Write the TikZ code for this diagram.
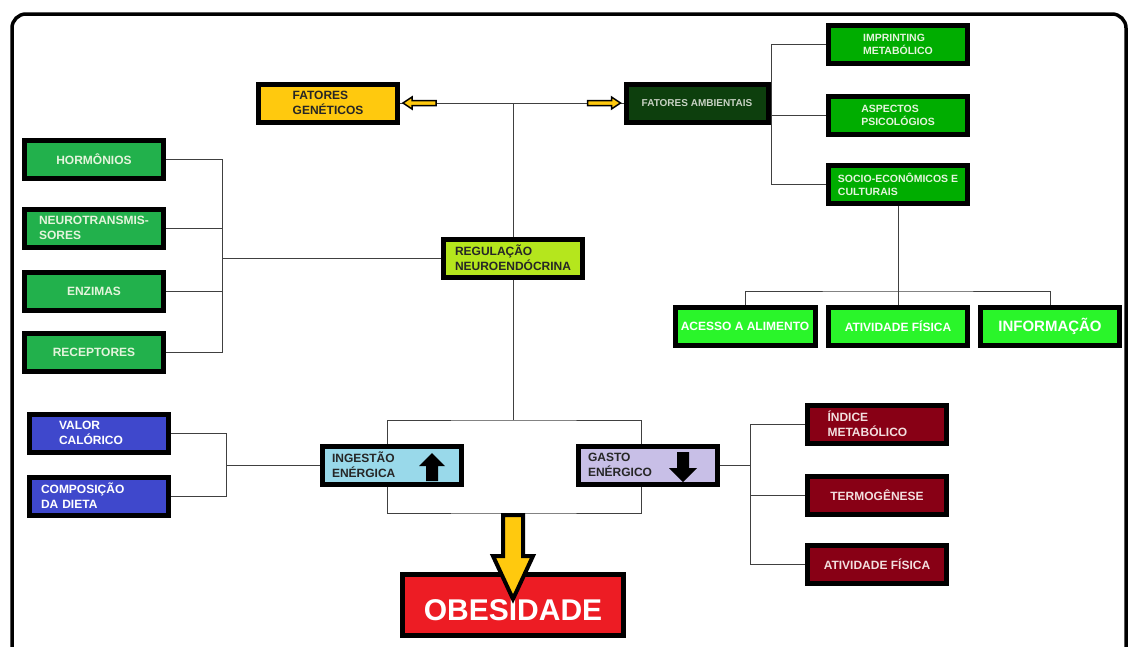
\documentclass[tikz,border=0pt]{standalone}
\usepackage{fontspec}
\setmainfont{Liberation Sans}
\usepackage{xcolor}
\usepackage{tikz}
\usetikzlibrary{positioning}

\definecolor{amarelo}{HTML}{FFC90E}
\definecolor{verdeescuro}{HTML}{0D3F0D}
\definecolor{verde}{HTML}{00AD00}
\definecolor{verdemedio}{HTML}{22B14C}
\definecolor{limao}{HTML}{B5E61D}
\definecolor{verdevivo}{HTML}{2AF52A}
\definecolor{azul}{HTML}{3F48CC}
\definecolor{azulclaro}{HTML}{99D9EA}
\definecolor{lilas}{HTML}{C8BFE7}
\definecolor{vinho}{HTML}{880015}
\definecolor{vermelho}{HTML}{ED1C24}
\definecolor{textoverde}{HTML}{E4F4DC}
\definecolor{textocinza}{HTML}{C8D2C4}
\definecolor{textovinho}{HTML}{F2DEDE}

\begin{document}
\begin{tikzpicture}[x=1pt, y=-1pt,
    box/.style={draw=black, line width=5pt, minimum width=139pt, minimum height=38pt,
        inner sep=2pt, align=center, font=\bfseries\fontsize{12}{15}\selectfont},
    smallbox/.style={box, font=\bfseries\fontsize{10.5}{13}\selectfont},
    link/.style={draw=black!75, line width=1pt},
    blockarrow/.style={draw=black, line width=1.5pt, fill=amarelo, line join=miter}]
        \useasboundingbox (0,0) rectangle (1128,646);

        % Frame
        \draw[line width=3.5pt, rounded corners=14pt] (12,652) -- (12,14) -- (1126,14) -- (1126,652);

        % Top: genetic and environmental factors
        \node[box, fill=amarelo, text=black!85, align=left] (gen) at (328,103) {FATORES\\GENÉTICOS};
        \node[smallbox, fill=verdeescuro, text=textocinza, minimum width=142pt,
            font=\bfseries\fontsize{10}{12}\selectfont] (amb) at (697,103) {FATORES AMBIENTAIS};
        \node[smallbox, fill=verde, text=textoverde, align=left] (imp) at (898,44) {IMPRINTING\\METABÓLICO};
        \node[smallbox, fill=verde, text=textoverde, align=left] (psi) at (898,115) {ASPECTOS\\PSICOLÓGIOS};
        \node[smallbox, fill=verde, text=textoverde, align=left] (soc) at (898,184) {SOCIO-ECONÔMICOS E\\CULTURAIS};

        % Left: neuroendocrine components
        \node[box, fill=verdemedio, text=textoverde] (hor) at (94,159) {HORMÔNIOS};
        \node[box, fill=verdemedio, text=textoverde, align=left] (neu) at (94,228) {NEUROTRANSMIS-\\SORES};
        \node[box, fill=verdemedio, text=textoverde] (enz) at (94,291) {ENZIMAS};
        \node[box, fill=verdemedio, text=textoverde] (rec) at (94,352) {RECEPTORES};
        \node[box, fill=limao, text=black!85, align=left] (reg) at (513,258) {REGULAÇÃO\\NEUROENDÓCRINA};

        % Right: socio-economic outcomes
        \node[box, fill=verdevivo, text=white, minimum width=140pt] (ace) at (745,326) {ACESSO A ALIMENTO};
        \node[box, fill=verdevivo, text=white] (ati) at (898,326) {ATIVIDADE FÍSICA};
        \node[box, fill=verdevivo, text=white, font=\bfseries\fontsize{15}{18}\selectfont] (inf) at (1050,326) {INFORMAÇÃO};

        % Energy intake and expenditure
        \node[box, fill=azul, text=white, align=left, inner xsep=29.5pt, text width=80pt] (val) at (99,433) {VALOR\\CALÓRICO};
        \node[box, fill=azul, text=white, align=left, inner xsep=11.5pt, text width=116pt] (com) at (99,496) {COMPOSIÇÃO\\DA DIETA};
        \node[box, fill=azulclaro, text=black!85, align=left, inner xsep=9.5pt, text width=120pt] (ing) at (392,465) {INGESTÃO\\ENÉRGICA};
        \node[box, fill=lilas, text=black!85, align=left, inner xsep=9.5pt, text width=120pt] (gas) at (648,465) {GASTO\\ENÉRGICO};
        \node[box, fill=vinho, text=textovinho, align=left, inner xsep=20pt, text width=99pt] (ind) at (877,424) {ÍNDICE\\METABÓLICO};
        \node[box, fill=vinho, text=textovinho] (ter) at (877,495) {TERMOGÊNESE};
        \node[box, fill=vinho, text=textovinho] (atr) at (877,564) {ATIVIDADE FÍSICA};

        % Result
        \node[box, fill=vermelho, text=white, minimum width=221pt, minimum height=61pt,
            text height=30pt, text depth=0pt,
            font=\bfseries\fontsize{30}{36}\selectfont] (obe) at (513,605) {OBESIDADE};

        % Bus points
        \coordinate (lbus) at (222,258);
        \coordinate (bbus) at (226,465);
        \coordinate (rbus) at (750,465);
        \coordinate (gbus) at (771,103);
        \coordinate (sbus) at (898,291);
        \coordinate (mtop) at (513,420);
        \coordinate (mbot) at (513,513);
        \coordinate (ingn) at ([xshift=-5pt]ing.north);
        \coordinate (ings) at ([xshift=-5pt]ing.south);
        \coordinate (gasn) at ([xshift=-7pt]gas.north);
        \coordinate (gass) at ([xshift=-7pt]gas.south);

        % Connectors
        \draw[link] (gen.east) -- (amb.west);
        \draw[link] (reg.north) -- (reg.north |- gen.east);
        \draw[link] (hor.east) -| (lbus);
        \draw[link] (rec.east) -| (lbus);
        \draw[link] (neu.east) -- (neu.east -| lbus);
        \draw[link] (enz.east) -- (enz.east -| lbus);
        \draw[link] (lbus) -- (reg.west);
        \draw[link] (amb.east) -- (gbus);
        \draw[link] (imp.west) -| (gbus);
        \draw[link] (soc.west) -| (gbus);
        \draw[link] (psi.west) -- (psi.west -| gbus);
        \draw[link] (soc.south) -- (ati.north);
        \draw[link] (ace.north) |- (sbus) -| (inf.north);
        \draw[link] (reg.south) -- (mtop);
        \draw[link] (ingn) |- (mtop) -| (gasn);
        \draw[link] (ings) |- (mbot) -| (gass);
        \draw[link] (val.east) -| (bbus);
        \draw[link] (com.east) -| (bbus);
        \draw[link] (bbus) -- (ing.west);
        \draw[link] (gas.east) -- (rbus);
        \draw[link] (ind.west) -| (rbus);
        \draw[link] (atr.west) -| (rbus);
        \draw[link] (ter.west) -- (ter.west -| rbus);

        % Yellow arrows
        \draw[blockarrow, shift={(gen.east)}] (3,0) -- (12,-6) -- (12,-2.5) -- (36,-2.5) -- (36,2.5) -- (12,2.5) -- (12,6) -- cycle;
        \draw[blockarrow, shift={(amb.west)}] (-3,0) -- (-12,-6) -- (-12,-2.5) -- (-36,-2.5) -- (-36,2.5) -- (-12,2.5) -- (-12,6) -- cycle;
        \draw[blockarrow, line width=4pt, shift={(mbot)}] (-10,2) -- (10,2) -- (10,43) -- (20,43) -- (0,86) -- (-20,43) -- (-10,43) -- cycle;

        % Up and down arrows
        \fill[black, shift={(ing.center)}] (40,-12) -- (53,1) -- (46,1) -- (46,16) -- (34,16) -- (34,1) -- (27,1) -- cycle;
        \fill[black, shift={(gas.center)}] (35,17) -- (49,3) -- (41,3) -- (41,-13) -- (29,-13) -- (29,3) -- (21,3) -- cycle;
    \end{tikzpicture}
\end{document}
